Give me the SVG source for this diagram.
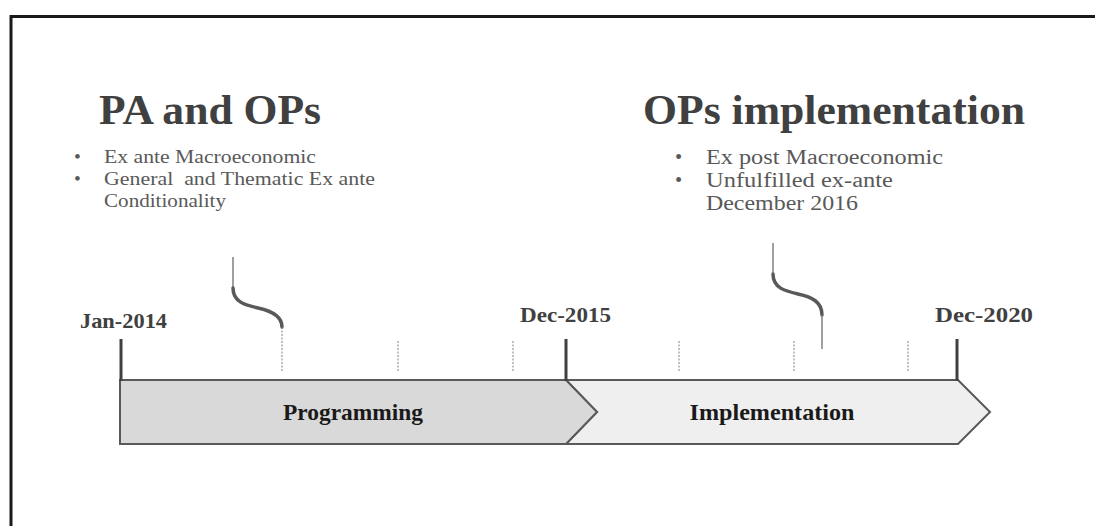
<svg xmlns="http://www.w3.org/2000/svg" width="1095" height="526" viewBox="0 0 1095 526">
<style>
text{white-space:pre}
.title{font-family:"Liberation Serif",serif;font-weight:bold;font-size:43px;fill:#404040}
.bul{font-family:"Liberation Serif",serif;font-size:19.5px;fill:#595959}
.bulr{font-family:"Liberation Serif",serif;font-size:20.5px;fill:#595959}
.date{font-family:"Liberation Serif",serif;font-weight:bold;font-size:22px;fill:#404040}
.phase{font-family:"Liberation Serif",serif;font-weight:bold;font-size:23px;fill:#1a1a1a}
.tick{stroke:#404040;stroke-width:3;fill:none}
.dash{stroke:#7f7f7f;stroke-width:1;stroke-dasharray:2 1.5;fill:none}
.thin{stroke:#7f7f7f;stroke-width:1.5;fill:none}
.curve{stroke:#595959;stroke-width:3.5;fill:none;stroke-linecap:round}
.chev{stroke:#595959;stroke-width:2;stroke-linejoin:miter}
</style>
<rect width="1095" height="526" fill="#fff"/>
<path d="M11,526 V16.5 H1095" fill="none" stroke="#1a1a1a" stroke-width="3"/>

<g id="titles">
<text class="title" x="99" y="124" textLength="222" lengthAdjust="spacingAndGlyphs">PA and OPs</text>
<text class="title" x="643" y="124" textLength="382" lengthAdjust="spacingAndGlyphs">OPs implementation</text>
</g>

<g id="left-bullets">
<text class="bul" x="74" y="163">•</text>
<text class="bul" x="104" y="163" textLength="212" lengthAdjust="spacingAndGlyphs">Ex ante Macroeconomic</text>
<text class="bul" x="74" y="185">•</text>
<text class="bul" x="104" y="185" textLength="271" lengthAdjust="spacingAndGlyphs" xml:space="preserve">General  and Thematic Ex ante</text>
<text class="bul" x="104" y="207" textLength="122" lengthAdjust="spacingAndGlyphs">Conditionality</text>
</g>

<g id="right-bullets">
<text class="bulr" x="675" y="164">•</text>
<text class="bulr" x="706" y="164" textLength="237" lengthAdjust="spacingAndGlyphs">Ex post Macroeconomic</text>
<text class="bulr" x="675" y="187">•</text>
<text class="bulr" x="706" y="187" textLength="187" lengthAdjust="spacingAndGlyphs">Unfulfilled ex-ante</text>
<text class="bulr" x="706" y="210" textLength="152" lengthAdjust="spacingAndGlyphs">December 2016</text>
</g>

<g id="implementation">
<polygon class="chev" fill="#efefef" points="566,380 958,380 990,412 958,444 566,444 597,412"/>
<text class="phase" x="772" y="420" text-anchor="middle" textLength="165" lengthAdjust="spacingAndGlyphs">Implementation</text>
</g>
<g id="programming">
<polygon class="chev" fill="#d9d9d9" points="120,380 566,380 597,412 566,444 120,444"/>
<text class="phase" x="353" y="420" text-anchor="middle" textLength="140" lengthAdjust="spacingAndGlyphs">Programming</text>
</g>

<g id="dates">
<text class="date" x="80" y="328" textLength="87" lengthAdjust="spacingAndGlyphs">Jan-2014</text>
<text class="date" x="520" y="322" textLength="91" lengthAdjust="spacingAndGlyphs">Dec-2015</text>
<text class="date" x="935" y="322" textLength="98" lengthAdjust="spacingAndGlyphs">Dec-2020</text>
</g>

<g id="connectors">
<line class="tick" x1="121" y1="339" x2="121" y2="381"/>
<line class="tick" x1="566" y1="339" x2="566" y2="381"/>
<line class="tick" x1="957" y1="339" x2="957" y2="381"/>
<line class="dash" x1="398" y1="341" x2="398" y2="372"/>
<line class="dash" x1="513" y1="341" x2="513" y2="372"/>
<line class="dash" x1="679" y1="341" x2="679" y2="372"/>
<line class="dash" x1="794" y1="341" x2="794" y2="372"/>
<line class="dash" x1="908" y1="341" x2="908" y2="372"/>
<line class="thin" x1="233" y1="257" x2="233" y2="288"/>
<path class="curve" d="M233,288 C233,302 245,305 258,308 C272,311 282,316 282,327"/>
<line class="dash" x1="282" y1="327" x2="282" y2="372"/>
<line class="thin" x1="773" y1="243" x2="773" y2="274"/>
<path class="curve" d="M773,274 C773,288 785,291 798,294 C812,297 822,302 822,315"/>
<line class="thin" x1="822" y1="315" x2="822" y2="349"/>
</g>
</svg>
